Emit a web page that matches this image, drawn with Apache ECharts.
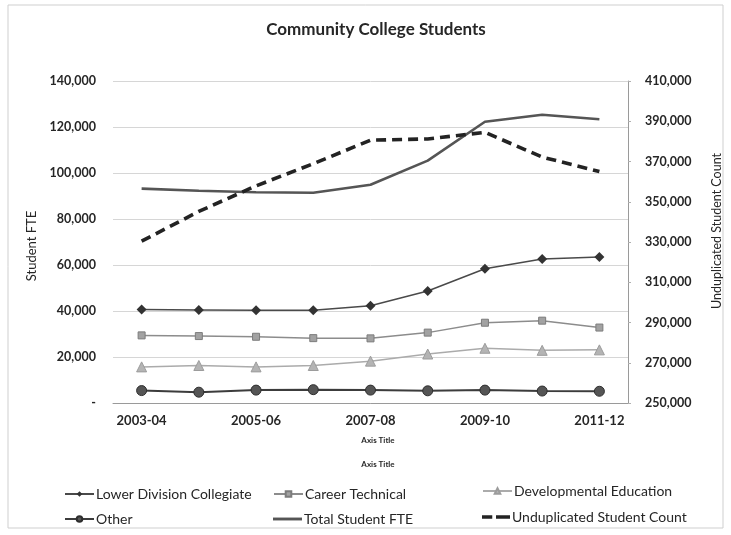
<!DOCTYPE html>
<html>
<head>
<meta charset="utf-8">
<title>Community College Students</title>
<script src="https://cdn.jsdelivr.net/npm/echarts@6/dist/echarts.min.js"></script>
<style>
  html, body { margin: 0; padding: 0; background: #ffffff; }
  #chart { width: 731px; height: 535px; }
</style>
</head>
<body>
<div id="chart"></div>
<script>
// Academic years on the category axis
const categories = ['2003-04', '2004-05', '2005-06', '2006-07', '2007-08', '2008-09', '2009-10', '2010-11', '2011-12'];

// Student FTE by program area (left axis)
const lowerDivision   = [40600, 40400, 40300, 40300, 42300, 48700, 58400, 62600, 63500];
const careerTechnical = [29400, 29100, 28800, 28200, 28100, 30600, 34900, 35800, 32800];
const developmental   = [15700, 16300, 15700, 16300, 18200, 21300, 23800, 22900, 23100];
const other           = [5400, 4700, 5600, 5800, 5600, 5300, 5600, 5200, 5100];
const totalFTE        = [93200, 92300, 91600, 91400, 94900, 105400, 122300, 125300, 123400];

// Headcount (right axis)
const unduplicated    = [330400, 345200, 357900, 368900, 380600, 381200, 384500, 372200, 365000];

// Axis ranges and tick step
const leftTicks  = { min: 0, max: 140000, step: 20000 };
const rightTicks = { min: 250000, max: 410000, step: 20000 };

const FONT = 'Lato, "Open Sans", sans-serif';
const TEXT = '#262626';

const fmt = v => v === 0 ? '-' : v.toLocaleString('en-US');

// Legend icons for the two unmarked lines
const SOLID_ICON  = 'path://M0,0H30V3H0Z';
const DASHED_ICON = 'path://M0,0H11V4H0Z M15,0H30V4H15Z';

const chart = echarts.init(document.getElementById('chart'), null, { renderer: 'canvas' });

function legendAt(name, left, top, extra) {
  return Object.assign({
    data: [name], left: left, top: top,
    itemWidth: 29, itemHeight: 7, itemGap: 0,
    padding: 0,
    textStyle: { fontFamily: FONT, fontSize: 14, color: TEXT, padding: [0, 0, 0, -3] }
  }, extra || {});
}

const option = {
  animation: false,
  backgroundColor: '#ffffff',
  textStyle: { fontFamily: FONT },
  title: [
    { text: 'Community College Students', left: 371, top: 16, textAlign: 'center',
      textStyle: { fontFamily: FONT, fontSize: 17, fontWeight: 'bold', color: TEXT } },
    { text: 'Axis Title', left: 373, top: 431, textAlign: 'center',
      textStyle: { fontFamily: FONT, fontSize: 8, fontWeight: 'bold', color: TEXT } },
    { text: 'Axis Title', left: 373, top: 455, textAlign: 'center',
      textStyle: { fontFamily: FONT, fontSize: 8, fontWeight: 'bold', color: TEXT } }
  ],
  graphic: [
    { type: 'rect', shape: { x: 8, y: 5, width: 715, height: 523 },
      style: { fill: 'none', stroke: '#cfcfcf', lineWidth: 1 }, silent: true, z: -1 }
  ],
  legend: [
    legendAt('Lower Division Collegiate', 64, 487),
    legendAt('Career Technical', 273, 487),
    legendAt('Developmental Education', 482, 484),
    legendAt('Other', 64, 512),
    legendAt('Total Student FTE', 273, 512, { itemHeight: 3, icon: SOLID_ICON }),
    legendAt('Unduplicated Student Count', 482, 510, { itemWidth: 28, itemHeight: 4, icon: DASHED_ICON })
  ],
  grid: { left: 113, right: 102, top: 81, bottom: 132, containLabel: false },
  xAxis: {
    type: 'category',
    data: categories,
    boundaryGap: true,
    axisLine: { lineStyle: { color: '#9a9a9a', width: 1 } },
    axisTick: { show: false },
    axisLabel: { interval: 1, margin: 11, fontFamily: FONT, fontSize: 13, fontWeight: 'bold', color: TEXT }
  },
  yAxis: [
    {
      type: 'value',
      min: leftTicks.min, max: leftTicks.max, interval: leftTicks.step,
      name: 'Student FTE', nameLocation: 'middle', nameGap: 71, nameRotate: 90,
      nameTextStyle: { fontFamily: FONT, fontSize: 13, color: TEXT, padding: [0, 8, 0, 0] },
      axisLine: { show: false },
      axisTick: { show: false },
      axisLabel: { margin: 17, formatter: fmt, fontFamily: FONT, fontSize: 12.5, fontWeight: 'bold', color: TEXT },
      splitLine: { lineStyle: { color: '#d6d6d6', width: 1 } }
    },
    {
      type: 'value', position: 'right',
      min: rightTicks.min, max: rightTicks.max, interval: rightTicks.step,
      name: 'Unduplicated Student Count', nameLocation: 'middle', nameGap: 82, nameRotate: 90,
      nameTextStyle: { fontFamily: FONT, fontSize: 12.5, color: TEXT, padding: [0, 0, 0, 22] },
      axisLine: { show: true, lineStyle: { color: '#9a9a9a', width: 1 } },
      axisTick: { show: true, length: 3, lineStyle: { color: '#b0b0b0' } },
      axisLabel: { margin: 17, formatter: fmt, fontFamily: FONT, fontSize: 12.5, fontWeight: 'bold', color: TEXT },
      splitLine: { show: false }
    }
  ],
  series: [
    {
      name: 'Lower Division Collegiate', type: 'line', yAxisIndex: 0, data: lowerDivision,
      symbol: 'diamond', symbolSize: 10,
      lineStyle: { color: '#4a4a4a', width: 1.5 },
      itemStyle: { color: '#333333' }
    },
    {
      name: 'Career Technical', type: 'line', yAxisIndex: 0, data: careerTechnical,
      symbol: 'rect', symbolSize: 7,
      lineStyle: { color: '#8c8c8c', width: 1.5 },
      itemStyle: { color: '#a2a2a2', borderColor: '#7c7c7c', borderWidth: 1 }
    },
    {
      name: 'Developmental Education', type: 'line', yAxisIndex: 0, data: developmental,
      symbol: 'triangle', symbolSize: 10,
      lineStyle: { color: '#ababab', width: 1.5 },
      itemStyle: { color: '#b4b4b4', borderColor: '#9c9c9c', borderWidth: 1 }
    },
    {
      name: 'Other', type: 'line', yAxisIndex: 0, data: other,
      symbol: 'circle', symbolSize: 10,
      lineStyle: { color: '#3c3c3c', width: 2 },
      itemStyle: { color: '#555555', borderColor: '#2e2e2e', borderWidth: 1 }
    },
    {
      name: 'Total Student FTE', type: 'line', yAxisIndex: 0, data: totalFTE,
      symbol: 'none', showSymbol: false,
      lineStyle: { color: '#555555', width: 2.6 },
      itemStyle: { color: '#555555' }
    },
    {
      name: 'Unduplicated Student Count', type: 'line', yAxisIndex: 1, data: unduplicated,
      symbol: 'none', showSymbol: false,
      lineStyle: { color: '#232323', width: 3.6, type: [10, 6] },
      itemStyle: { color: '#232323' }
    }
  ]
};

chart.setOption(option);
</script>
</body>
</html>
